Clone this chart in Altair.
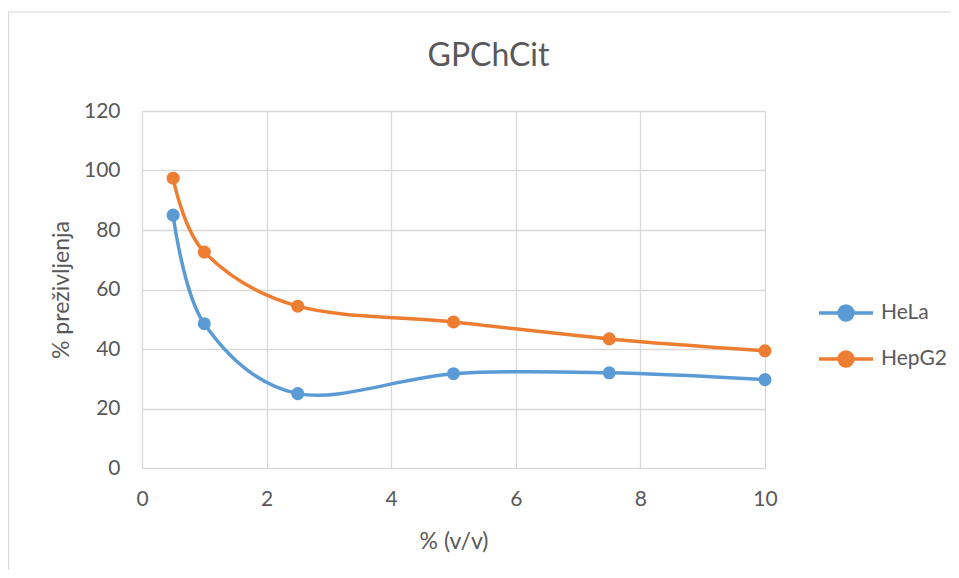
import altair as alt
import pandas as pd

conc = [0.5, 1, 2.5, 5, 7.5, 10]
hela = [85.0, 48.5, 25.0, 31.7, 32.0, 29.7]
hepg2 = [97.4, 72.6, 54.4, 49.1, 43.4, 39.4]
series_names = ["HeLa", "HepG2"]
series_colors = ["#5B9BD5", "#ED7D31"]

rows = []
for name, vals in zip(series_names, [hela, hepg2]):
    for c, v in zip(conc, vals):
        rows.append({"conc": c, "value": v, "series": name})
df = pd.DataFrame(rows)

FONT = "Lato"
TXT = "#595959"
GRID = "#D9D9D9"
W, H = 623, 357
PAD = {"left": 134, "top": 103, "right": 186, "bottom": 102}

x_enc = alt.X("conc:Q", title="% (v/v)",
              scale=alt.Scale(domain=[0, 10], nice=False),
              axis=alt.Axis(values=[0, 2, 4, 6, 8, 10], format="d", grid=True, ticks=False, domain=False,
                            labelFlush=False,
                            labelPadding=20, titlePadding=21, labelFontSize=21, titleFontSize=23,
                            labelColor=TXT, titleColor=TXT, labelFont=FONT, titleFont=FONT,
                            titleFontWeight="normal", gridColor=GRID, gridWidth=1.3))
y_enc = alt.Y("value:Q", title="% preživljenja",
              scale=alt.Scale(domain=[0, 120], nice=False),
              axis=alt.Axis(values=[0, 20, 40, 60, 80, 100, 120], format="d", grid=True, ticks=False, domain=False,
                            labelFlush=False,
                            labelPadding=22, titlePadding=10, labelFontSize=21, titleFontSize=23,
                            labelColor=TXT, titleColor=TXT, labelFont=FONT, titleFont=FONT,
                            titleFontWeight="normal", gridColor=GRID, gridWidth=1.3))

legend = alt.Legend(title=None, orient="none", legendX=675, legendY=173,
                    symbolType="M-1,0H1M-0.26,0A0.26,0.26,0,1,1,0.26,0A0.26,0.26,0,1,1,-0.26,0Z",
                    symbolSize=2916, symbolStrokeWidth=3.3, labelFontSize=21, labelFont=FONT,
                    labelColor=TXT, labelOffset=6, rowPadding=3)

lines = alt.Chart(df).mark_line(interpolate="cardinal", strokeWidth=3.5).encode(
    x=x_enc, y=y_enc,
    stroke=alt.Stroke("series:N", scale=alt.Scale(domain=series_names, range=series_colors), legend=legend),
)
points = alt.Chart(df).mark_point(filled=True, size=170, opacity=1).encode(
    x="conc:Q", y="value:Q",
    fill=alt.Fill("series:N", scale=alt.Scale(domain=series_names, range=series_colors), legend=legend),
)
frame_src = pd.DataFrame({"a": [0]})
border_top = alt.Chart(frame_src).mark_rule(stroke=GRID, strokeWidth=1.2).encode(
    x=alt.value(-133.5), x2=alt.value(W + PAD["right"]), y=alt.value(-99)
)
border_left = alt.Chart(frame_src).mark_rule(stroke=GRID, strokeWidth=1.2).encode(
    x=alt.value(-133.5), y=alt.value(-99), y2=alt.value(H + PAD["bottom"])
)

chart = alt.layer(border_top, border_left, lines, points).properties(
    width=W, height=H,
    title=alt.Title("GPChCit", fontSize=32, font=FONT, color=TXT, fontWeight="normal",
                    offset=-62, dx=35, anchor="middle", frame="group"),
    autosize=alt.AutoSizeParams(type="none"),
    padding=PAD,
).configure_view(stroke=None).configure(background="white")

chart.save("out.html", embed_options={"renderer": "svg", "actions": False})
